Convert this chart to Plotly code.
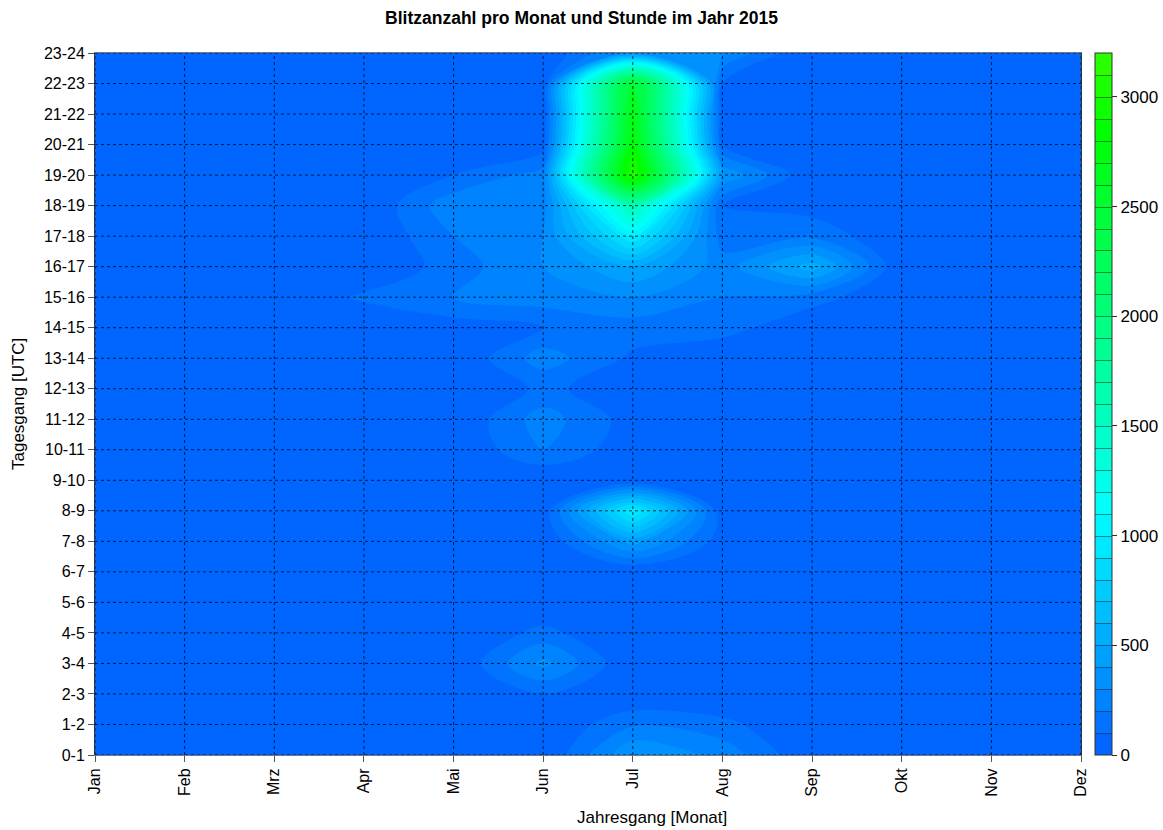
import colorsys
import plotly.graph_objects as go

# Month and hour labels
months = ["Jan", "Feb", "Mrz", "Apr", "Mai", "Jun", "Jul", "Aug", "Sep", "Okt", "Nov", "Dez"]
hours = ["0-1", "1-2", "2-3", "3-4", "4-5", "5-6", "6-7", "7-8", "8-9", "9-10", "10-11", "11-12",
         "12-13", "13-14", "14-15", "15-16", "16-17", "17-18", "18-19", "19-20", "20-21", "21-22",
         "22-23", "23-24"]

# Lightning counts per hour of day (index 0 = 0-1 UTC) for each month
jan = [0] * 24
feb = [0] * 24
mrz = [0] * 24
apr = [0, 0, 0, 0, 0, 0, 0, 0, 0, 0, 0, 0, 0, 0, 0, 120, 0, 0, 0, 0, 0, 0, 0, 0]
mai = [0, 0, 0, 0, 0, 0, 0, 0, 0, 0, 0, 0, 0, 0, 50, 200, 150, 200, 270, 100, 0, 0, 0, 0]
jun = [0, 0, 100, 330, 130, 0, 0, 0, 20, 0, 200, 250, 120, 250, 100, 250, 300, 300, 250, 250, 50, 0, 0, 0]
jul = [400, 185, 0, 0, 0, 0, 0, 450, 1000, 0, 30, 50, 50, 80, 150, 300, 500, 1000, 1600, 3100, 2800, 2700, 2600, 350]
aug = [270, 130, 0, 0, 0, 0, 0, 40, 20, 0, 0, 0, 0, 0, 150, 200, 250, 150, 100, 400, 100, 50, 100, 300]
sep = [10, 0, 0, 0, 0, 0, 0, 0, 0, 0, 0, 0, 0, 0, 0, 150, 550, 180, 50, 0, 0, 0, 0, 0]
okt = [0] * 24
nov = [0] * 24
dez = [0] * 24

month_series = [jan, feb, mrz, apr, mai, jun, jul, aug, sep, okt, nov, dez]
z = [[series[h] for series in month_series] for h in range(len(hours))]

# Contour levels and colour bar range
z_min, z_max, level_step = 0, 3200, 100

# Blue -> cyan -> green colour ramp (linear in hue)
n_stops = 33
colorscale = []
for i in range(n_stops):
    f = i / (n_stops - 1)
    hue = (216 - 106 * f) / 360.0
    r, g, b = colorsys.hsv_to_rgb(hue, 1.0, 1.0)
    colorscale.append([f, f"rgb({int(r*255)},{int(g*255)},{int(b*255)})"])

font_family = "Arial, Liberation Sans, sans-serif"

# Plot-area geometry in pixels
fig_w, fig_h = 1163, 830
m_l, m_r, m_t, m_b = 95, 82, 53, 75
plot_w = fig_w - m_l - m_r
plot_h = fig_h - m_t - m_b
cb_x = 14 / plot_w + 1.0

contour_common = dict(
    x=list(range(len(months))),
    y=list(range(len(hours))),
    z=z,
    colorscale=colorscale,
    zmin=z_min,
    zmax=z_max,
    hoverinfo="skip",
)

fig = go.Figure()
# Filled contour map without level lines
fig.add_trace(go.Contour(
    **contour_common,
    contours=dict(start=z_min + level_step, end=z_max - level_step, size=level_step,
                  coloring="fill", showlines=False),
    line=dict(width=0),
    showscale=False,
))
# Transparent copy carrying the colour bar with its band separators
fig.add_trace(go.Contour(
    **contour_common,
    opacity=0,
    contours=dict(start=z_min + level_step, end=z_max - level_step, size=level_step,
                  coloring="fill", showlines=True),
    line=dict(width=1, color="rgba(40,40,40,0.55)"),
    colorbar=dict(
        x=cb_x, xanchor="left", xpad=0, ypad=0,
        y=0.5, yanchor="middle", len=1.0, lenmode="fraction",
        thickness=17, outlinewidth=1, outlinecolor="#333",
        tickvals=[0, 500, 1000, 1500, 2000, 2500, 3000],
        ticks="outside", ticklen=5, tickcolor="#333",
        tickfont=dict(family=font_family, size=17, color="black"),
    ),
))

# Dotted grid drawn above the filled contours
grid_line = dict(color="rgba(0,0,0,0.75)", width=1, dash="dot")
shapes = []
for i in range(len(months)):
    shapes.append(dict(type="line", xref="x", yref="paper", x0=i, x1=i, y0=0, y1=1,
                       line=grid_line, layer="above"))
for j in range(len(hours)):
    shapes.append(dict(type="line", xref="paper", yref="y", x0=0, x1=1, y0=j, y1=j,
                       line=grid_line, layer="above"))

axis_title_font = dict(family=font_family, size=17, color="black")

fig.update_layout(
    width=fig_w, height=fig_h,
    margin=dict(l=m_l, r=m_r, t=m_t, b=m_b, autoexpand=False),
    paper_bgcolor="white", plot_bgcolor="white",
    font=dict(family=font_family, color="black"),
    title=dict(text="<b>Blitzanzahl pro Monat und Stunde im Jahr 2015</b>",
               x=0.5, xanchor="center", y=0.978, yanchor="middle",
               font=dict(family=font_family, size=17.5, color="black")),
    shapes=shapes,
    annotations=[
        dict(text="Tagesgang [UTC]", textangle=-90, showarrow=False,
             xref="paper", yref="paper", x=(18 - m_l) / plot_w, y=0.5,
             xanchor="center", yanchor="middle", font=axis_title_font),
        dict(text="Jahresgang [Monat]", showarrow=False,
             xref="paper", yref="paper", x=(652 - m_l) / plot_w,
             y=-(818 - (fig_h - m_b)) / plot_h,
             xanchor="center", yanchor="middle", font=axis_title_font),
    ],
    xaxis=dict(
        range=[0, len(months) - 1], automargin=False,
        tickvals=list(range(len(months))), ticktext=months,
        tickangle=-90, ticks="outside", ticklen=6, tickcolor="#555",
        tickfont=dict(size=16), showgrid=False, zeroline=False,
        showline=True, linecolor="#777", linewidth=1, mirror=True,
    ),
    yaxis=dict(
        range=[0, len(hours) - 1], automargin=False,
        tickvals=list(range(len(hours))), ticktext=hours,
        ticks="outside", ticklen=6, tickcolor="#555",
        tickfont=dict(size=16), showgrid=False, zeroline=False,
        showline=True, linecolor="#333", linewidth=1, mirror=True,
    ),
)

fig.write_html("out.html")
